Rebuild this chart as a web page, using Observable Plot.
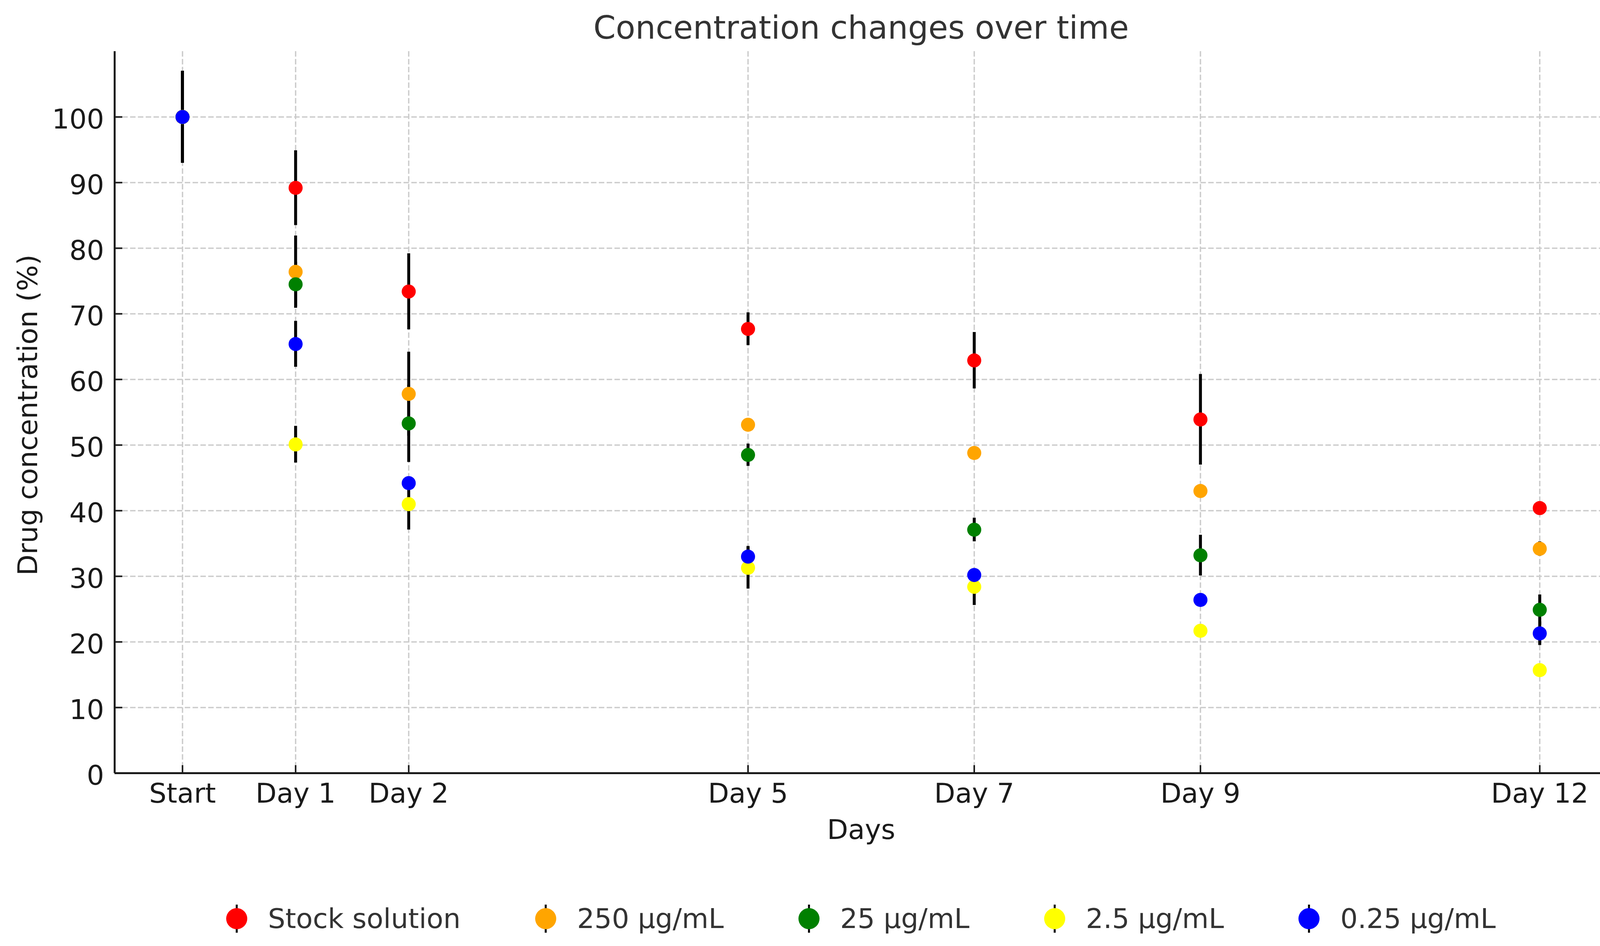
<!DOCTYPE html>
<html>
<head>
<meta charset="utf-8">
<script src="https://cdn.jsdelivr.net/npm/d3@7"></script>
<script src="https://cdn.jsdelivr.net/npm/@observablehq/plot@0.6"></script>
<style>
  html, body { margin: 0; padding: 0; background: #fff; overflow: hidden; }
  body { font-family: "DejaVu Sans", sans-serif; width: 4142px; }
  #legend { margin-left: 293px; width: 3822px; padding-top: 100px; height: 104px;
            display: flex; justify-content: center; align-items: center; gap: 191px; }
  #legend .item { display: flex; align-items: center; }
  #legend .item svg { margin-right: 53px; display: block; }
  #legend .item span { font-size: 70px; color: #333; white-space: nowrap; }
</style>
</head>
<body>
<div id="chart"></div>
<div id="legend"></div>
<script>
// ---- data ----
const days = [0, 1, 2, 5, 7, 9, 12];
const dayLabels = ["Start", "Day 1", "Day 2", "Day 5", "Day 7", "Day 9", "Day 12"];
const yTicks = [0, 10, 20, 30, 40, 50, 60, 70, 80, 90, 100];
const seriesNames = ["Stock solution", "250 μg/mL", "25 μg/mL", "2.5 μg/mL", "0.25 μg/mL"];
const seriesColors = ["red", "orange", "green", "yellow", "blue"];

const stockMean = [100, 89.2, 73.4, 67.7, 62.9, 53.9, 40.4];
const stockErr  = [7.0, 5.7, 5.8, 2.5, 4.3, 6.9, 0.5];
const c250Mean  = [100, 76.4, 57.8, 53.1, 48.8, 43.0, 34.2];
const c250Err   = [7.0, 5.5, 6.4, 0.8, 0.8, 0.8, 1.1];
const c25Mean   = [100, 74.5, 53.3, 48.5, 37.1, 33.2, 24.9];
const c25Err    = [7.0, 3.4, 5.9, 1.7, 1.8, 3.1, 2.3];
const c2_5Mean  = [100, 50.1, 41.0, 31.3, 28.4, 21.7, 15.7];
const c2_5Err   = [7.0, 2.8, 3.9, 3.2, 2.8, 0.8, 0.6];
const c0_25Mean = [100, 65.4, 44.2, 33.0, 30.2, 26.4, 21.3];
const c0_25Err  = [7.0, 3.5, 1.0, 1.6, 0.8, 0.8, 1.8];

const means = [stockMean, c250Mean, c25Mean, c2_5Mean, c0_25Mean];
const errs  = [stockErr, c250Err, c25Err, c2_5Err, c0_25Err];

const rows = [];
seriesNames.forEach((name, s) => {
  days.forEach((d, i) => rows.push({series: name, day: d, value: means[s][i], err: errs[s][i]}));
});

// ---- layout ----
const W = 4142, H = 2200;
const mt = 131, ml = 293, mr = 27, mb = 221;
const plotW = W - ml - mr, plotH = H - mt - mb;
const xDomain = [-0.6, 12.6];
const yDomain = [0, 110];
const axisColor = "#1a1a1a";
const gridStyle = {stroke: "#cccccc", strokeOpacity: 1, strokeWidth: 3.5, strokeDasharray: "14,6"};

const chart = Plot.plot({
  width: W, height: H,
  marginTop: mt, marginLeft: ml, marginRight: mr, marginBottom: mb,
  style: {fontFamily: "DejaVu Sans", fontSize: "70px", color: axisColor, background: "white", overflow: "visible"},
  x: {type: "linear", domain: xDomain},
  y: {type: "linear", domain: yDomain},
  color: {domain: seriesNames, range: seriesColors},
  marks: [
    Plot.gridX(days, gridStyle),
    Plot.gridY(yTicks, gridStyle),
    Plot.axisX(days, {tickSize: 0, tickPadding: 26, label: null, fontSize: 70,
      tickFormat: d => dayLabels[days.indexOf(d)]}),
    Plot.axisY(yTicks, {tickSize: 0, tickPadding: 27, label: null, fontSize: 70, dy: 7}),
    Plot.tickX(days, {x: d => d, insetTop: plotH - 20, stroke: axisColor, strokeWidth: 4}),
    Plot.tickY(yTicks, {y: d => d, insetRight: plotW - 20, stroke: axisColor, strokeWidth: 4}),
    Plot.ruleX(rows, {x: "day", y1: d => d.value - d.err, y2: d => d.value + d.err, stroke: "black", strokeWidth: 7.5}),
    Plot.dot(rows, {x: "day", y: "value", fill: "series", r: 18}),
    Plot.ruleY([yDomain[0]], {stroke: axisColor, strokeWidth: 5}),
    Plot.ruleX([xDomain[0]], {stroke: axisColor, strokeWidth: 5}),
    Plot.text(["Concentration changes over time"], {text: d => d, frameAnchor: "top", dy: 98 - mt,
      lineAnchor: "bottom", textAnchor: "middle", fontSize: 82, fill: "#333"}),
    Plot.text(["Days"], {text: d => d, frameAnchor: "bottom", dy: 168, lineAnchor: "bottom",
      textAnchor: "middle", fontSize: 70, fill: axisColor}),
    Plot.text(["Drug concentration (%)"], {text: d => d, frameAnchor: "left", dx: -221, dy: 7, rotate: -90,
      textAnchor: "middle", lineAnchor: "middle", fontSize: 70, fill: axisColor})
  ]
});
document.getElementById("chart").appendChild(chart);

// ---- legend ----
const legend = document.getElementById("legend");
seriesNames.forEach((name, i) => {
  const item = document.createElement("div");
  item.className = "item";
  item.innerHTML = `<svg width="54" height="80" viewBox="-27 -40 54 80">
      <line x1="0" x2="0" y1="-36" y2="36" stroke="black" stroke-width="5"></line>
      <circle r="27" fill="${seriesColors[i]}"></circle></svg><span>${name}</span>`;
  legend.appendChild(item);
});
</script>
</body>
</html>
